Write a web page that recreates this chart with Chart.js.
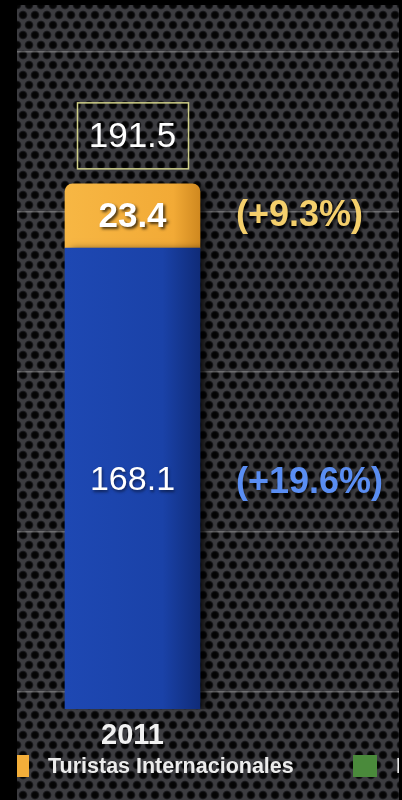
<!DOCTYPE html>
<html>
<head>
<meta charset="utf-8">
<script src="https://cdn.jsdelivr.net/npm/chart.js"></script>
<style>
html, body { margin: 0; padding: 0; background: #000; }
#wrap { position: relative; width: 402px; height: 800px; overflow: hidden; background: #000; }
#panel {
    position: absolute; left: 17px; top: 5px; width: 382px; height: 795px;
    background-color: #3c3c40;
    background-image:
        radial-gradient(circle, #030303 0, #060606 2.8px, #1a1a1d 3.8px, rgba(60,60,64,0) 4.8px),
        radial-gradient(circle, #030303 0, #060606 2.8px, #1a1a1d 3.8px, rgba(60,60,64,0) 4.8px);
    background-size: 12px 20px;
    background-position: 0 0, 6px 10px;
}
canvas { position: absolute; left: 0; top: 0; }
.mask { position: absolute; top: 0; height: 800px; background: #000; }
</style>
</head>
<body>
<div id="wrap">
    <div id="panel"></div>
    <canvas id="myChart" width="402" height="800"></canvas>
    <div class="mask" style="left:0;width:17px"></div>
    <div class="mask" style="left:399px;width:3px"></div>
</div>
<script>
// data
const years = ['2011'];
const nacionales = [168.1];
const internacionales = [23.4];
const totales = [191.5];
const crecNacionales = ['(+19.6%)'];
const crecInternacionales = ['(+9.3%)'];
const legendNames = ['Turistas Internacionales', 'Ingresos'];

const FONT = '"Liberation Sans", Arial, sans-serif';

function barGradient(stops) {
    return (c) => {
        const chart = c.chart;
        if (!chart.chartArea) return stops[0][1];
        const x = chart.scales.x.getPixelForValue(c.dataIndex);
        const g = chart.ctx.createLinearGradient(x - 68, 0, x + 68, 0);
        stops.forEach(s => g.addColorStop(s[0], s[1]));
        return g;
    };
}

const shadowPlugin = {
    id: 'barShadow',
    beforeDatasetsDraw(chart) {
        const ctx = chart.ctx;
        ctx.save();
        ctx.shadowColor = 'rgba(0,0,0,0.75)';
        ctx.shadowOffsetX = 6;
        ctx.shadowOffsetY = 2;
        ctx.shadowBlur = 8;
    },
    afterDatasetsDraw(chart) {
        chart.ctx.restore();
    }
};

const labelPlugin = {
    id: 'barLabels',
    afterDatasetsDraw(chart) {
        const ctx = chart.ctx;
        const blue = chart.getDatasetMeta(0).data;
        const orange = chart.getDatasetMeta(1).data;
        ctx.save();
        ctx.textBaseline = 'middle';

        blue.forEach((bar, i) => {
            const yMid = (bar.y + bar.base) / 2;
            ctx.shadowColor = 'rgba(0,0,0,0.5)';
            ctx.shadowOffsetX = 1; ctx.shadowOffsetY = 2; ctx.shadowBlur = 3;
            ctx.textAlign = 'center';
            ctx.fillStyle = '#ffffff';
            ctx.font = '34px ' + FONT;
            ctx.fillText(nacionales[i].toFixed(1), bar.x, yMid + 2);
            ctx.textAlign = 'left';
            ctx.fillStyle = '#5a8ef3';
            ctx.font = 'bold 36px ' + FONT;
            ctx.fillText(crecNacionales[i], 236, yMid + 4);
        });

        orange.forEach((bar, i) => {
            const yMid = (bar.y + bar.base) / 2;
            ctx.shadowColor = 'rgba(0,0,0,0.7)';
            ctx.shadowOffsetX = 2; ctx.shadowOffsetY = 2; ctx.shadowBlur = 3;
            ctx.textAlign = 'center';
            ctx.fillStyle = '#ffffff';
            ctx.font = 'bold 35px ' + FONT;
            ctx.fillText(internacionales[i].toFixed(1), bar.x, yMid + 1);
            ctx.textAlign = 'left';
            ctx.fillStyle = '#f4cf6c';
            ctx.font = 'bold 36px ' + FONT;
            ctx.fillText(crecInternacionales[i], 236, yMid);

            // total above the stack
            ctx.shadowColor = 'transparent';
            const ty = bar.y - 48;
            ctx.strokeStyle = '#cfcf88';
            ctx.lineWidth = 1.5;
            ctx.strokeRect(bar.x - 55, ty - 33, 111, 66);
            ctx.textAlign = 'center';
            ctx.fillStyle = '#ffffff';
            ctx.font = '35px ' + FONT;
            ctx.fillText(totales[i].toFixed(1), bar.x, ty + 1);
        });
        ctx.restore();
    }
};

const legendPlugin = {
    id: 'bottomLegend',
    afterDraw(chart) {
        const ctx = chart.ctx;
        const items = [
            { ds: 1, x: 5 },
            { ds: 2, x: 353 }
        ];
        ctx.save();
        ctx.font = 'bold 21.5px ' + FONT;
        ctx.textBaseline = 'alphabetic';
        ctx.textAlign = 'left';
        items.forEach(it => {
            const d = chart.data.datasets[it.ds];
            ctx.fillStyle = d.legendColor;
            ctx.fillRect(it.x, 755, 24, 22);
            ctx.fillStyle = '#ececec';
            ctx.fillText(d.label, it.x + 43, 773);
        });
        ctx.restore();
    }
};

const ctx = document.getElementById('myChart').getContext('2d');
const myChart = new Chart(ctx, {
    type: 'bar',
    data: {
        datasets: [{
            label: 'Turistas Nacionales',
            data: years.map((y, i) => ({ x: i, y: nacionales[i] })),
            backgroundColor: barGradient([[0, '#1e48b3'], [0.72, '#1a42a8'], [1, '#0f2b78']]),
            borderWidth: 0,
            barThickness: 135
        }, {
            label: legendNames[0],
            legendColor: '#f3ae3a',
            data: years.map((y, i) => ({ x: i, y: internacionales[i] })),
            backgroundColor: barGradient([[0, '#f7b744'], [0.8, '#f2aa36'], [1, '#cf881f']]),
            borderWidth: 0,
            borderRadius: { topLeft: 8, topRight: 8, bottomLeft: 0, bottomRight: 0 },
            borderSkipped: false,
            barThickness: 135
        }, {
            label: legendNames[1],
            legendColor: '#4a8a3b',
            data: [],
            backgroundColor: '#4a8a3b'
        }]
    },
    options: {
        responsive: false,
        animation: false,
        layout: { padding: { left: 17, right: 3, top: 5, bottom: 46 } },
        plugins: {
            legend: { display: false },
            tooltip: { enabled: false }
        },
        scales: {
            x: {
                type: 'linear',
                stacked: true,
                offset: false,
                min: -0.5,
                max: 1.1536,
                grid: { display: false },
                border: { display: false },
                ticks: {
                    stepSize: 1,
                    maxRotation: 0,
                    autoSkip: false,
                    padding: 1,
                    color: '#f2f2f2',
                    font: { family: FONT, size: 29, weight: 'bold' },
                    callback: (v) => (Number.isInteger(v) && years[v]) ? years[v] : ''
                }
            },
            y: {
                display: false,
                stacked: true,
                min: 0,
                max: 256.7
            },
            grid: {
                position: 'right',
                min: -0.106,
                max: 4.294,
                afterFit: (s) => { s.width = 0; },
                ticks: { display: false, stepSize: 1 },
                border: { display: false },
                grid: {
                    drawTicks: false,
                    lineWidth: 1.5,
                    color: (c) => Number.isInteger(c.tick.value) ? 'rgba(185,185,185,0.4)' : 'rgba(0,0,0,0)'
                }
            }
        }
    },
    plugins: [shadowPlugin, labelPlugin, legendPlugin]
});
</script>
</body>
</html>
